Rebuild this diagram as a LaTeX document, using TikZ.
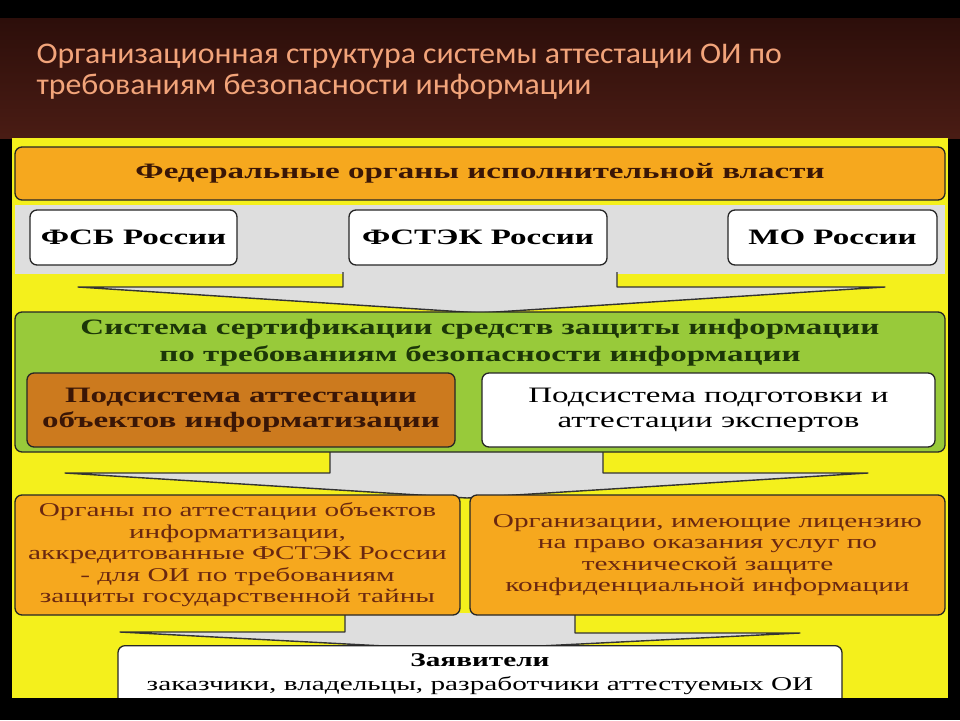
\documentclass[tikz,border=0pt]{standalone}
\usepackage{fontspec}
\setmainfont{Liberation Serif}
\newfontfamily\titlefont[FakeStretch=1.06]{Carlito}
\newfontfamily\widefont[FakeStretch=1.5]{Liberation Serif}
\usetikzlibrary{positioning}

\definecolor{slidedark}{HTML}{4A1C14}
\definecolor{slidetop}{HTML}{2C0E0A}
\definecolor{titletext}{HTML}{F2A47A}
\definecolor{panelyellow}{HTML}{F4F01C}
\definecolor{barorange}{HTML}{F6A81E}
\definecolor{subbrown}{HTML}{CC7A1E}
\definecolor{certgreen}{HTML}{98CA3A}
\definecolor{arrowgray}{HTML}{DEDEDE}
\definecolor{darkbrown}{HTML}{3A1606}
\definecolor{darkgreen}{HTML}{1C3608}
\definecolor{orgtext}{HTML}{6A2810}

\begin{document}
\begin{tikzpicture}[x=1pt, y=-1pt,
    box/.style={draw=black!85, line width=1.3pt, rounded corners=7pt, inner sep=0pt, align=center},
    agency/.style={box, fill=white, minimum height=55pt, font=\widefont\bfseries\fontsize{22}{26}\selectfont},
    subsys/.style={box, minimum height=74pt, font=\widefont\fontsize{22}{25}\selectfont},
    orgbox/.style={box, fill=barorange, minimum height=120pt, text=orgtext, font=\widefont\fontsize{19.5}{21.5}\selectfont},
    blockarrow/.style={fill=arrowgray, draw=black!80, line width=1.4pt, line join=round}
  ]
  \useasboundingbox (0,0) rectangle (960,720);
  \fill[black] (0,0) rectangle (960,720);
  \shade[top color=slidetop, bottom color=slidedark] (0,18) rectangle (960,138);
  \fill[panelyellow] (12,138) rectangle (948,698);

  \node[anchor=north west, align=left, text=titletext, font=\titlefont\fontsize{30}{31}\selectfont]
    (title) at (33,40) {Организационная структура системы аттестации ОИ по\\требованиям безопасности информации};

  % grey arrows between the levels
  \fill[arrowgray] (15,205) rectangle (945,274);
  \draw[blockarrow] (343,272) -- (343,287) -- (78,287) -- (480,313) -- (885,287) -- (617,287) -- (617,272);
  \draw[blockarrow] (330,448) -- (330,473) -- (65,473) -- (467,498) -- (868,473) -- (603,473) -- (603,448);
  \draw[blockarrow] (345,613) -- (345,632) -- (120,632) -- (460,650) -- (800,633) -- (575,633) -- (575,613);

  \node[box, fill=barorange, minimum width=930pt, minimum height=53pt, text=darkbrown,
        font=\widefont\bfseries\fontsize{22}{26}\selectfont] (federal) at (480,173.5) {Федеральные органы исполнительной власти};
  \node[agency, minimum width=207pt] (fsb) at (133.5,237.5) {ФСБ России};
  \node[agency, minimum width=258pt] (fstek) at (478,237.5) {ФСТЭК России};
  \node[agency, minimum width=209pt] (mo) at (832.5,237.5) {МО России};

  \node[box, fill=certgreen, minimum width=930pt, minimum height=140pt] (certsys) at (480,382) {};
  \node[text=darkgreen, align=center, font=\widefont\bfseries\fontsize{22}{27}\selectfont] (certtitle) at (480,343)
    {Система сертификации средств защиты информации\\по требованиям безопасности информации};
  \node[subsys, fill=subbrown, minimum width=428pt, text=darkbrown, font=\widefont\bfseries\fontsize{22}{25}\selectfont]
    (attsub) at (241,410) {Подсистема аттестации\\объектов информатизации};
  \node[subsys, fill=white, minimum width=453pt] (expsub) at (708.5,410) {Подсистема подготовки и\\аттестации экспертов};

  \node[orgbox, minimum width=445pt] (attorg) at (237.5,555) {Органы по аттестации объектов\\информатизации,\\аккредитованные ФСТЭК России\\- для ОИ по требованиям\\защиты государственной тайны};
  \node[orgbox, minimum width=475pt] (licorg) at (707.5,555) {Организации, имеющие лицензию\\на право оказания услуг по\\технической защите\\конфиденциальной информации};

  \node[box, fill=white, minimum width=724pt, minimum height=66pt, anchor=north] (applicants) at (480,645) {};
  \node[font=\widefont\fontsize{19.5}{24}\selectfont, align=center] (apptext) at (480,674)
    {\textbf{Заявители}\\заказчики, владельцы, разработчики аттестуемых ОИ};
  \fill[black] (0,698) rectangle (960,720);
\end{tikzpicture}
\end{document}
